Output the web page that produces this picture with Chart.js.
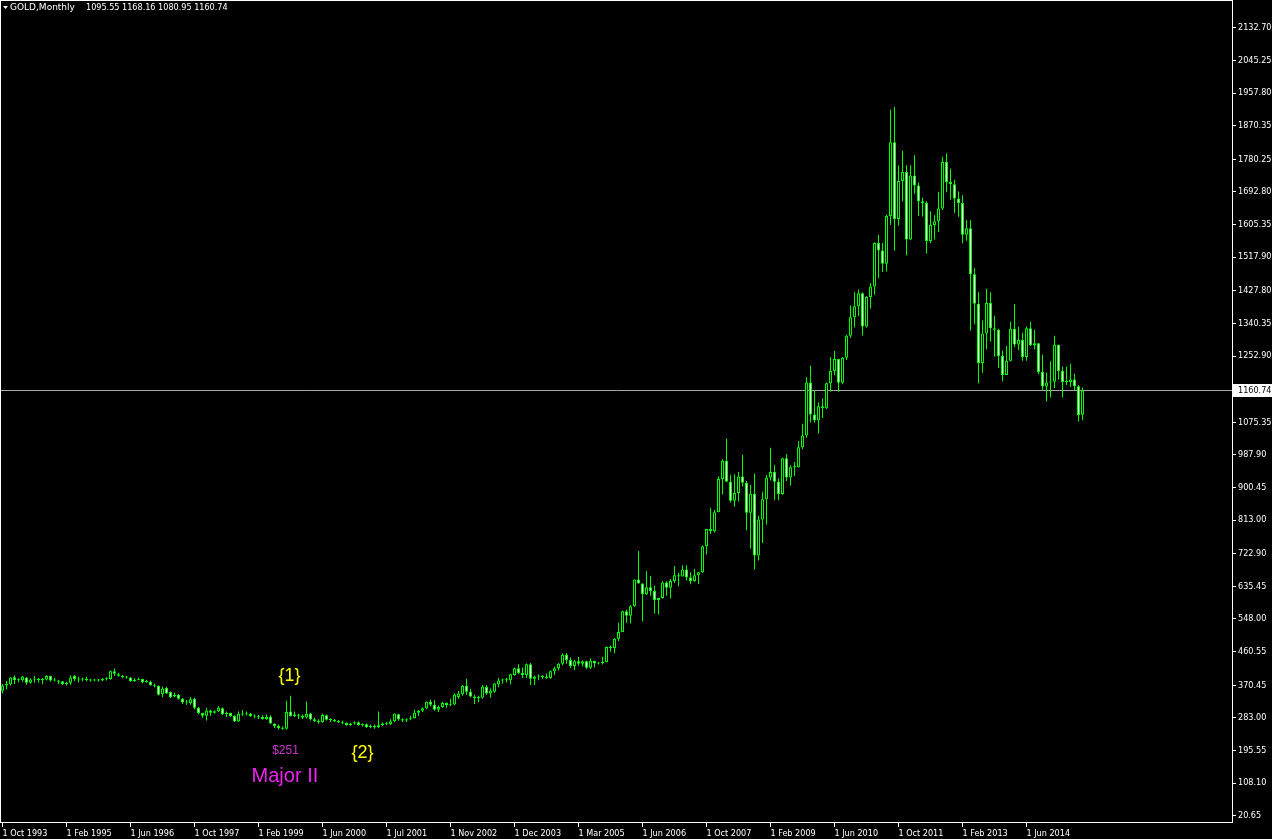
<!DOCTYPE html>
<html>
<head>
<meta charset="utf-8">
<title>GOLD, Monthly</title>
<script src="https://cdn.jsdelivr.net/npm/chart.js@4.4.0/dist/chart.umd.min.js"></script>
<style>
    html, body { margin: 0; padding: 0; background: #000; }
    #wrap { width: 1272px; height: 839px; }
</style>
</head>
<body>
<div id="wrap"><canvas id="grafico" width="1272" height="839"></canvas></div>
<script>
// ===================== DADOS (GOLD mensal, Oct 1993 .. Aug 2015) =====================
const opens = [
    356,370,373,392,384,384,391,377,386,387,
    384,386,395,383,383,381,374,377,395,387,
    386,387,384,383,385,383,388,387,408,400,
    396,392,391,382,385,387,379,380,371,369,
    346,363,352,340,345,334,325,323,334,310,
    296,289,303,297,301,309,293,296,288,273,
    294,292,294,288,287,286,280,286,268,261,
    255,254,300,288,292,289,284,295,279,274,
    272,290,278,277,274,272,269,264,268,271,
    264,266,258,261,258,263,268,266,274,293,
    279,276,279,282,297,302,309,326,318,305,
    312,323,317,319,339,346,369,353,340,336,
    337,366,348,353,373,383,385,384,398,416,
    403,397,427,388,394,395,392,390,408,416,
    428,452,438,422,435,428,435,417,436,429,
    430,433,473,470,495,513,569,557,582,654,
    643,614,633,623,599,604,646,632,650,665,
    662,681,659,650,665,673,743,789,783,834,
    923,972,916,865,886,930,913,833,884,718,
    815,869,927,942,916,883,979,927,955,955,
    1008,1040,1182,1096,1081,1118,1113,1180,1213,1245,
    1181,1248,1307,1357,1386,1421,1332,1411,1439,1556,
    1536,1500,1628,1826,1620,1722,1746,1565,1737,1710,
    1668,1663,1561,1604,1614,1648,1773,1719,1713,1675,
    1663,1578,1595,1472,1393,1234,1313,1395,1327,1323,
    1253,1202,1240,1326,1284,1296,1250,1327,1282,1287,
    1210,1171,1182,1184,1283,1213,1183,1183,1190,1172,
    1095.55
];
const highs = [
    374,382,392,397,389,396,392,389,395,390,
    390,397,396,390,385,382,380,397,398,393,
    391,393,388,387,387,390,392,410,415,404,
    398,396,392,389,391,388,385,383,375,370,
    367,366,354,351,347,336,331,339,337,312,
    297,310,305,303,315,311,300,297,290,300,
    304,300,297,292,291,290,292,290,268,265,
    260,329,342,300,294,292,327,297,283,279,
    294,292,282,280,277,275,271,270,273,273,
    268,268,265,265,300,271,272,279,295,294,
    282,281,289,305,304,311,327,332,330,316,
    326,324,334,349,355,371,388,361,345,342,
    371,371,362,376,390,388,390,401,417,427,
    418,429,430,396,399,397,402,410,420,430,
    456,457,445,439,446,437,436,443,436,432,
    447,474,477,497,538,570,573,585,654,730,
    644,676,663,637,605,650,649,655,690,672,
    692,692,673,683,674,745,790,846,840,930,
    976,1032,934,936,942,988,918,908,938,825,
    889,934,1007,961,925,980,990,960,969,1025,
    1071,1195,1227,1162,1128,1139,1182,1250,1266,1245,
    1250,1310,1388,1424,1431,1424,1413,1448,1557,1577,
    1556,1632,1913,1920,1764,1803,1764,1764,1791,1718,
    1677,1668,1641,1630,1693,1787,1796,1755,1725,1694,
    1684,1617,1617,1488,1424,1348,1433,1424,1361,1326,
    1267,1280,1345,1392,1331,1315,1332,1345,1323,1288,
    1256,1208,1239,1307,1284,1224,1224,1232,1205,1175,
    1168.16
];
const lows = [
    348,360,370,374,378,380,372,375,377,378,
    373,383,380,381,374,372,370,372,382,378,
    381,381,380,381,380,382,383,385,395,393,
    389,388,379,380,384,376,377,369,365,343,
    338,347,336,338,332,320,318,318,306,293,
    283,276,289,294,299,291,285,285,272,272,
    288,290,285,282,280,278,278,267,256,252,
    251,252,287,285,280,280,281,276,272,267,
    270,276,272,272,269,266,262,262,265,262,
    260,256,255,254,255,261,264,264,271,275,
    272,272,277,281,288,299,306,314,302,299,
    310,310,315,317,334,342,345,338,320,325,
    335,345,337,350,365,375,378,373,396,400,
    390,390,371,371,384,387,388,388,398,410,
    424,428,417,411,423,421,414,414,418,426,
    426,432,460,456,489,513,538,536,581,643,
    541,612,610,562,560,603,610,603,645,636,
    662,651,641,648,642,671,721,776,780,834,
    882,916,860,849,863,903,786,737,681,705,
    752,801,919,866,866,881,918,906,931,954,
    1003,1034,1075,1075,1045,1087,1111,1158,1201,1157,
    1177,1242,1301,1330,1360,1308,1329,1380,1417,1462,
    1478,1480,1604,1535,1602,1668,1523,1563,1688,1628,
    1627,1527,1555,1565,1586,1644,1692,1672,1636,1626,
    1555,1562,1321,1338,1180,1208,1271,1291,1251,1221,
    1185,1202,1238,1277,1268,1240,1240,1280,1271,1204,
    1161,1131,1142,1167,1190,1142,1175,1170,1162,1077,
    1080.95
];
const closes = [
    370,374,391,384,386,394,377,386,388,384,
    388,395,383,384,380,374,377,391,387,386,
    387,384,383,385,383,388,390,408,401,396,
    392,391,382,385,387,379,380,371,369,345,
    362,348,338,345,334,324,324,333,310,296,
    289,303,297,301,310,293,296,288,273,294,
    292,294,288,287,286,280,286,268,261,255,
    254,299,288,292,289,283,294,279,274,272,
    291,278,277,274,272,270,263,268,271,264,
    266,258,261,258,263,268,266,274,294,279,
    276,279,282,297,302,309,326,318,305,312,
    323,317,319,345,348,369,353,340,336,338,
    367,348,356,375,383,385,386,400,416,403,
    397,427,388,394,395,392,390,408,416,428,
    452,438,422,435,428,435,417,436,429,430,
    433,473,470,495,513,569,557,582,654,643,
    614,633,623,599,604,646,632,650,665,662,
    681,659,650,665,673,743,789,783,834,923,
    972,916,865,886,930,913,833,884,718,815,
    869,927,942,916,883,979,927,955,955,1008,
    1040,1182,1096,1081,1118,1113,1180,1213,1245,1181,
    1248,1307,1357,1386,1421,1332,1411,1439,1556,1536,
    1500,1628,1826,1620,1722,1746,1565,1737,1710,1668,
    1663,1561,1604,1614,1648,1773,1719,1713,1675,1663,
    1578,1595,1472,1393,1234,1313,1395,1327,1323,1253,
    1202,1240,1326,1284,1296,1250,1327,1282,1287,1210,
    1171,1182,1184,1283,1213,1183,1183,1190,1172,1095,
    1160.74
];

// rótulos do eixo X (um a cada 16 barras)
const tickLabels = [
    "1 Oct 1993", "1 Feb 1995", "1 Jun 1996", "1 Oct 1997", "1 Feb 1999",
    "1 Jun 2000", "1 Jul 2001", "1 Nov 2002", "1 Dec 2003", "1 Mar 2005",
    "1 Jun 2006", "1 Oct 2007", "1 Feb 2009", "1 Jun 2010", "1 Oct 2011",
    "1 Feb 2013", "1 Jun 2014"
];
const tickStep = 16;

// rótulos do eixo de preço
const yTicks = [
    20.65, 108.10, 195.55, 283.00, 370.45, 460.55, 548.00, 635.45,
    722.90, 813.00, 900.45, 987.90, 1075.35, 1252.90, 1340.35, 1427.80,
    1517.90, 1605.35, 1692.80, 1780.25, 1870.35, 1957.80, 2045.25, 2132.70
];

const symbol = "GOLD,Monthly";
const lastPrice = closes[closes.length - 1];

// anotações de ondas
const notes = [
    { text: "{1}", bar: 71.75, price: 396, color: "#ffff00", size: 18 },
    { text: "{2}", bar: 90, price: 188, color: "#ffff00", size: 18 },
    { text: "$251", bar: 70.75, price: 195, color: "#cc33cc", size: 12 },
    { text: "Major II", bar: 70.6, price: 126, color: "#ee22ee", size: 20 }
];

// ===================== GRÁFICO =====================
const GREEN = "#00ff00";
const axisFont = { family: "Tahoma, 'DejaVu Sans Condensed', 'DejaVu Sans'", size: 9 };

const bodyData = closes.map((c, i) => ({ x: i, y: [opens[i], c] }));
const wickData = closes.map((c, i) => ({ x: i, y: [lows[i], highs[i]] }));
const bodyFill = closes.map((c, i) => c >= opens[i] ? "#000000" : "#ffffff");

function semPadding(axis) {
    axis.paddingTop = 0;
    axis.paddingBottom = 0;
    axis.paddingLeft = 0;
    axis.paddingRight = 0;
}

const mt4Plugin = {
    id: "mt4",
    beforeDraw(chart) {
        const ctx = chart.ctx;
        ctx.save();
        ctx.fillStyle = "#000";
        ctx.fillRect(0, 0, chart.width, chart.height);
        ctx.restore();
    },
    beforeDatasetsDraw(chart) {
        const { ctx, chartArea, scales } = chart;
        const y = Math.round(scales.y.getPixelForValue(lastPrice)) + 0.5;
        ctx.save();
        ctx.strokeStyle = "#a8a8a8";
        ctx.lineWidth = 1;
        ctx.beginPath();
        ctx.moveTo(chartArea.left, y);
        ctx.lineTo(chartArea.right, y);
        ctx.stroke();
        ctx.restore();
    },
    afterDraw(chart) {
        const { ctx, chartArea, scales } = chart;
        ctx.save();

        // moldura
        ctx.strokeStyle = "#ffffff";
        ctx.lineWidth = 1;
        ctx.strokeRect(chartArea.left - 0.5, chartArea.top - 0.5,
            chartArea.right - chartArea.left + 1, chartArea.bottom - chartArea.top + 1);

        // etiqueta do preço atual
        const py = Math.round(scales.y.getPixelForValue(lastPrice));
        ctx.fillStyle = "#ffffff";
        ctx.fillRect(chartArea.right + 1, py - 6, chart.width - chartArea.right - 1, 13);
        ctx.fillStyle = "#000000";
        ctx.font = `${axisFont.size}px ${axisFont.family}`;
        ctx.textBaseline = "middle";
        ctx.textAlign = "left";
        ctx.fillText(lastPrice.toFixed(2), chartArea.right + 6, py + 0.5);

        // cabeçalho
        ctx.fillStyle = "#ffffff";
        ctx.beginPath();
        ctx.moveTo(3, 6);
        ctx.lineTo(8, 6);
        ctx.lineTo(5.5, 9);
        ctx.closePath();
        ctx.fill();
        ctx.font = "9px Tahoma, 'DejaVu Sans'";
        ctx.fillText(symbol, 10, 8);
        const ohlc = [opens, highs, lows, closes].map(a => a[a.length - 1].toFixed(2)).join(" ");
        ctx.font = `${axisFont.size}px ${axisFont.family}`;
        ctx.fillText(ohlc, 86, 8);

        // anotações
        ctx.textAlign = "center";
        notes.forEach(n => {
            ctx.fillStyle = n.color;
            ctx.font = `${n.size}px 'Liberation Sans', Arial, sans-serif`;
            ctx.fillText(n.text, scales.x.getPixelForValue(n.bar), scales.y.getPixelForValue(n.price));
        });
        ctx.restore();
    }
};

new Chart(document.getElementById("grafico").getContext("2d"), {
    type: "bar",
    data: {
        datasets: [
            {
                label: "corpo",
                data: bodyData,
                backgroundColor: bodyFill,
                borderColor: GREEN,
                borderWidth: 1,
                borderSkipped: false,
                barPercentage: 0.75,
                categoryPercentage: 1,
                grouped: false,
                minBarLength: 1,
                order: 0
            },
            {
                label: "pavio",
                data: wickData,
                backgroundColor: GREEN,
                borderWidth: 0,
                barPercentage: 0.25,
                categoryPercentage: 1,
                grouped: false,
                order: 1
            }
        ]
    },
    options: {
        responsive: false,
        animation: false,
        devicePixelRatio: 1,
        layout: { padding: { left: 1, top: 1, right: 0, bottom: 0 } },
        plugins: {
            legend: { display: false },
            tooltip: { enabled: false }
        },
        scales: {
            x: {
                type: "linear",
                min: -0.375,
                max: 307.375,
                offset: false,
                bounds: "data",
                border: { display: false },
                grid: { offset: false, drawOnChartArea: false, drawTicks: true, tickLength: 5, color: "#ffffff" },
                ticks: {
                    color: "#ffffff",
                    font: axisFont,
                    align: "start",
                    maxRotation: 0,
                    autoSkip: false,
                    padding: 1,
                    callback: v => tickLabels[v / tickStep]
                },
                afterBuildTicks: axis => {
                    axis.ticks = tickLabels.map((t, k) => ({ value: k * tickStep }));
                },
                afterFit: axis => { axis.height = 17; semPadding(axis); }
            },
            y: {
                type: "linear",
                position: "right",
                min: 3.9,
                max: 2204.4,
                bounds: "data",
                border: { display: false },
                grid: { drawOnChartArea: false, drawTicks: true, tickLength: 4, color: "#ffffff" },
                ticks: {
                    color: "#ffffff",
                    font: axisFont,
                    autoSkip: false,
                    padding: 2,
                    callback: v => Number(v).toFixed(2)
                },
                afterBuildTicks: axis => {
                    axis.ticks = yTicks.map(v => ({ value: v }));
                },
                afterFit: axis => { axis.width = 40; semPadding(axis); }
            }
        }
    },
    plugins: [mt4Plugin]
});
</script>
</body>
</html>
